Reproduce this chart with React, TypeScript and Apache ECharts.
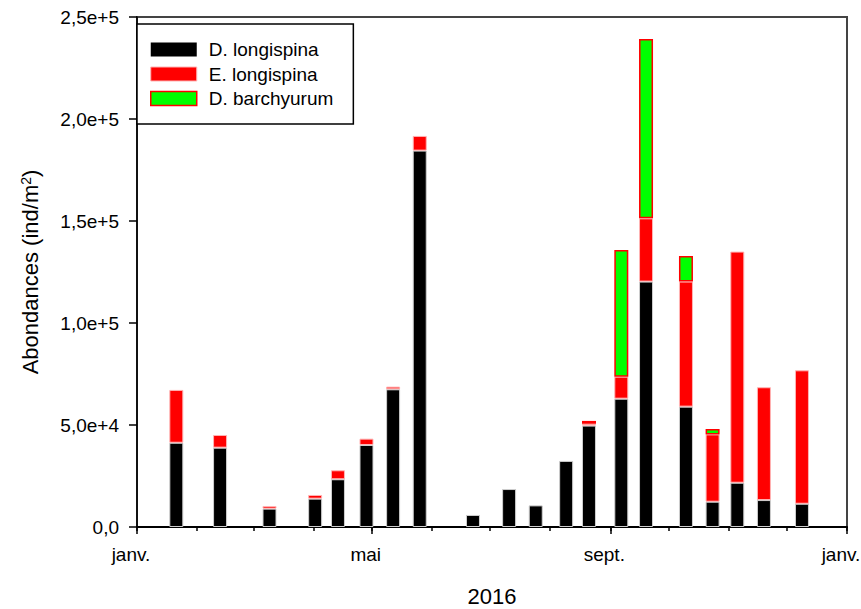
import React, { useEffect, useRef } from "react";
import * as echarts from "echarts";

const sampleDates: string[] = [
  "2016-01-18", "2016-02-10", "2016-03-07", "2016-03-31", "2016-04-12",
  "2016-04-27", "2016-05-11", "2016-05-25", "2016-06-22", "2016-07-11",
  "2016-07-25", "2016-08-10", "2016-08-22", "2016-09-08", "2016-09-21",
  "2016-10-12", "2016-10-26", "2016-11-08", "2016-11-22", "2016-12-12",
];
const dLongispina: (number | null)[] = [
  41300, 38900, 9000, 13900, 23400, 40200, 67500, 184500, 5900, 18600,
  10600, 32400, 49700, 62900, 120300, 59000, 12400, 21700, 13200, 11400,
];
const eLongispina: (number | null)[] = [
  25900, 6200, 1300, 1800, 4400, 3100, 1300, 7200, null, null,
  null, null, 900, 10800, 31000, 61300, 33000, 113300, 55300, 65400,
];
const dBarchyurum: (number | null)[] = [
  null, null, null, null, null, null, null, null, null, null,
  null, null, 1400, 62100, 87900, 12500, 2600, null, null, null,
];
const seriesNames: string[] = ["D. longispina", "E. longispina", "D. barchyurum"];
const majorTickDates: string[] = ["2016-01-01", "2016-05-01", "2016-09-01", "2017-01-01"];
const monthTickDates: string[] = [
  "2016-01-01", "2016-02-01", "2016-03-01", "2016-04-01", "2016-05-01", "2016-06-01",
  "2016-07-01", "2016-08-01", "2016-09-01", "2016-10-01", "2016-11-01", "2016-12-01", "2017-01-01",
];
const monthLabels: Record<number, string> = { 0: "janv.", 4: "mai", 8: "sept." };
const xAxisTitle = "2016";
const yAxisTitle = "Abondances (ind/m{sup|2})";

const ts = (d: string) => Date.parse(d + "T00:00:00Z");
const FONT = "'Liberation Sans', Arial, sans-serif";

function fmtY(v: number): string {
  if (v === 0) return "0,0";
  const e = Math.floor(Math.log10(v) + 1e-9);
  const m = v / Math.pow(10, e);
  return m.toFixed(1).replace(".", ",") + "e+" + e;
}

export default function App() {
  const ref = useRef<HTMLDivElement>(null);
  useEffect(() => {
    if (!ref.current) return;
    const chart = echarts.init(ref.current, undefined, { renderer: "svg" });
    const xMin = ts("2016-01-01");
    const xMax = ts("2017-01-01");
    const mk = (arr: (number | null)[]) =>
      sampleDates.map((d, i) => [ts(d), arr[i] === null ? "-" : arr[i]]);
    const styles = [
      { color: "#000000", borderColor: "#cfcfcf", borderWidth: 1 },
      { color: "#ff0000", borderColor: "#ffb4b4", borderWidth: 1 },
      { color: "#00ff00", borderColor: "#ff0000", borderWidth: 1.5 },
    ];
    const legendStyles = [
      { color: "#000000", borderWidth: 0 },
      { color: "#ff0000", borderColor: "#ffb4b4", borderWidth: 1 },
      { color: "#00ff00", borderColor: "#ff0000", borderWidth: 1.5 },
    ];
    const datas = [dLongispina, eLongispina, dBarchyurum];
    chart.setOption({
      animation: false,
      textStyle: { fontFamily: FONT },
      grid: {
        left: 137, top: 17, width: 710, height: 510,
        outerBoundsMode: "none", containLabel: false,
        show: true, borderColor: "#444444", borderWidth: 2, backgroundColor: "transparent",
      },
      legend: {
        orient: "vertical",
        left: 137, top: 24,
        padding: [16, 20, 16, 13],
        itemWidth: 46, itemHeight: 14, itemGap: 5.5,
        borderColor: "#000", borderWidth: 1.5, backgroundColor: "#fff",
        icon: "rect",
        textStyle: { fontSize: 19, color: "#000", fontFamily: FONT, padding: [0, 0, 0, 7] },
        data: seriesNames.map((name, k) => ({ name, itemStyle: legendStyles[k] })),
      },
      xAxis: [
        {
          type: "time", min: xMin, max: xMax, position: "bottom",
          name: xAxisTitle, nameLocation: "middle", nameGap: 58,
          nameTextStyle: { fontSize: 22, color: "#000", fontFamily: FONT },
          axisLine: { show: true, lineStyle: { color: "#000", width: 2 } },
          axisTick: { show: false },
          axisLabel: { show: false },
          splitLine: { show: false },
        },
        {
          type: "value", min: xMin, max: xMax, position: "bottom",
          axisLine: { show: false },
          axisTick: {
            show: true, length: 7, lineStyle: { color: "#000", width: 1.5 },
            customValues: majorTickDates.map(ts),
          },
          axisLabel: {
            show: true, fontSize: 19, color: "#000", margin: 18, fontFamily: FONT,
            customValues: majorTickDates.map(ts),
            padding: [0, 12, 0, 0],
            showMinLabel: true, showMaxLabel: true,
            formatter: (v: number) => monthLabels[new Date(v).getUTCMonth()] ?? "",
          },
          splitLine: { show: false },
        },
        {
          type: "value", min: xMin, max: xMax, position: "bottom",
          axisLine: { show: false },
          axisTick: {
            show: true, length: 4, lineStyle: { color: "#000", width: 1.5 },
            customValues: monthTickDates.map(ts),
          },
          axisLabel: { show: false },
          splitLine: { show: false },
        },
      ],
      yAxis: {
        type: "value", min: 0, max: 250000, interval: 50000,
        name: yAxisTitle, nameLocation: "middle", nameGap: 96, nameRotate: 90,
        nameTextStyle: {
          fontSize: 22, color: "#000", fontFamily: FONT,
          rich: { sup: { fontSize: 14, color: "#000", fontFamily: FONT, verticalAlign: "top", lineHeight: 22 } },
        },
        axisLine: { show: true, lineStyle: { color: "#000", width: 1.5 } },
        axisTick: { show: true, length: 8, lineStyle: { color: "#000", width: 1.5 } },
        axisLabel: { fontSize: 19, color: "#000", margin: 18, fontFamily: FONT, formatter: fmtY },
        splitLine: { show: false },
      },
      series: seriesNames.map((name, k) => ({
        name,
        type: "bar",
        stack: "total",
        xAxisIndex: 0,
        barWidth: 14,
        itemStyle: styles[k],
        data: mk(datas[k]),
      })),
    });
    return () => chart.dispose();
  }, []);
  return (
    <div
      ref={ref}
      style={{ position: "absolute", left: 0, top: 0, width: 861, height: 609, background: "#fff" }}
    />
  );
}
